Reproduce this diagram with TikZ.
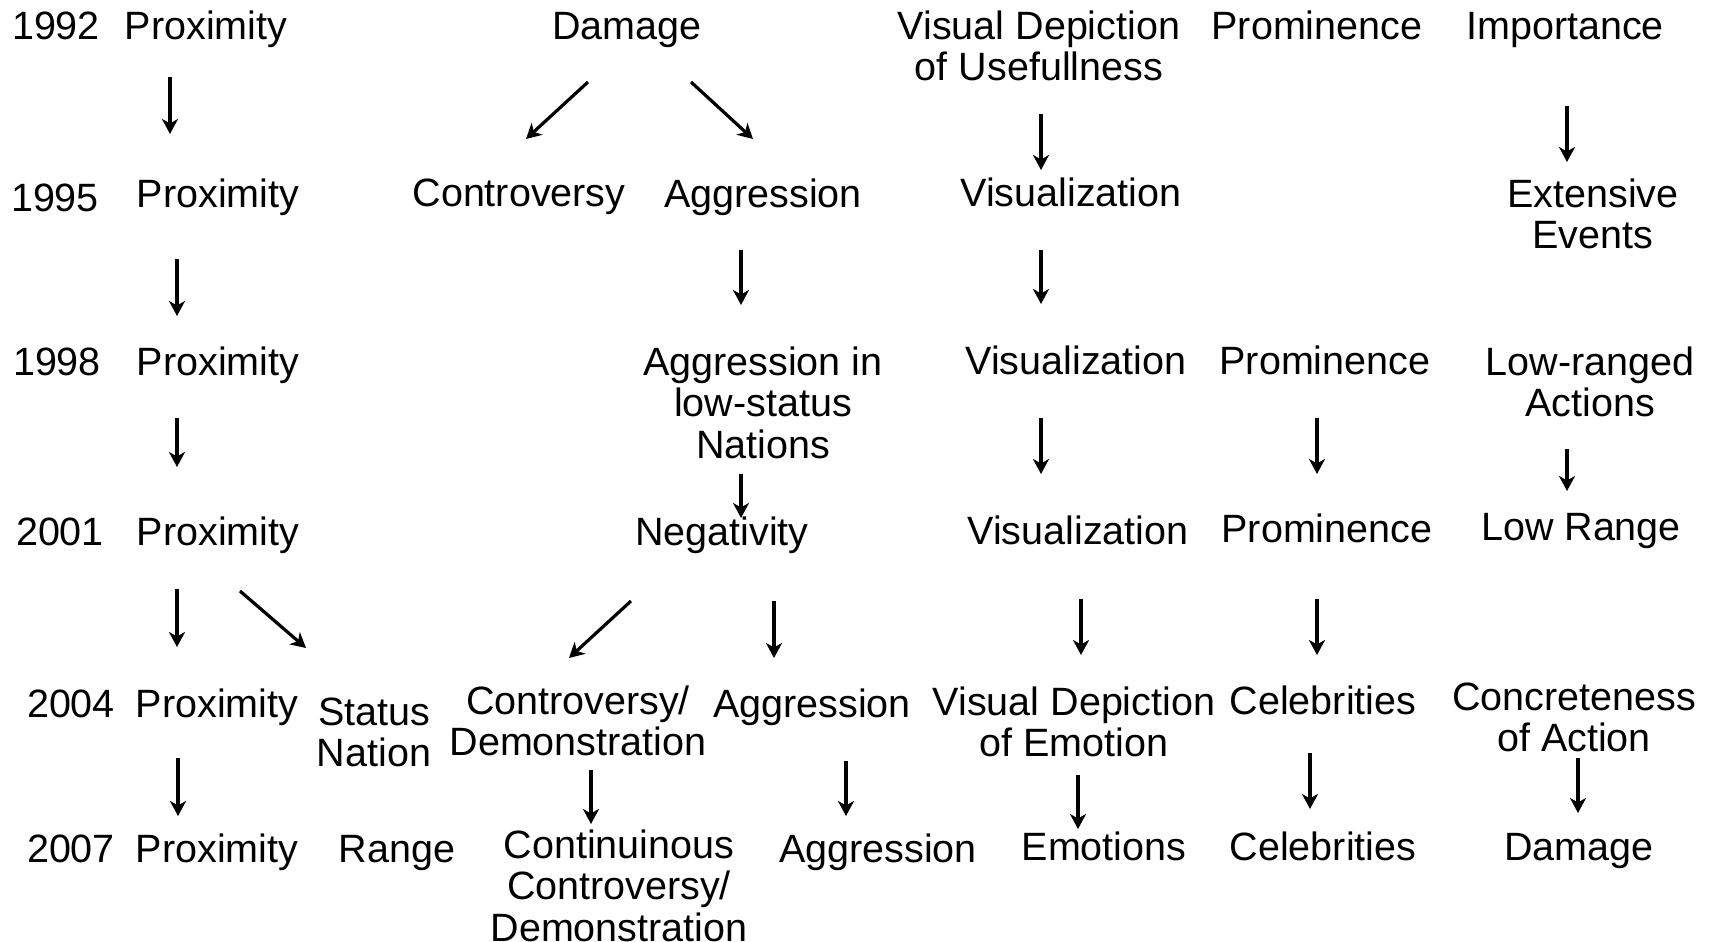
\documentclass[tikz,border=0pt]{standalone}
\usepackage{fontspec}
\setmainfont{Liberation Sans}
\usetikzlibrary{arrows.meta}
\newcommand\st{\rule{0pt}{32pt}}
\begin{document}
\begin{tikzpicture}[x=1pt,y=-1pt,
  lbl/.style={anchor=north,inner sep=0pt,align=center,font=\fontsize{39.5}{41.5}\selectfont},
  arr/.style={line width=3.2pt,-{Stealth[length=15pt,width=16pt,inset=4.5pt]}}]
\useasboundingbox (0,0) rectangle (1716,942);
% years
\node[lbl] (y92) at (56,37-30)  {\st 1992};
\node[lbl] (y95) at (55,209-30) {\st 1995};
\node[lbl] (y98) at (57,373-30) {\st 1998};
\node[lbl] (y01) at (60,543-30) {\st 2001};
\node[lbl] (y04) at (71,715-30) {\st 2004};
\node[lbl] (y07) at (71,860-30) {\st 2007};
% proximity column
\node[lbl] (p92) at (206,37-30)  {\st Proximity};
\node[lbl] (p95) at (218,205-30) {\st Proximity};
\node[lbl] (p98) at (218,373-30) {\st Proximity};
\node[lbl] (p01) at (218,543-30) {\st Proximity};
\node[lbl] (p04) at (217,715-30) {\st Proximity};
\node[lbl] (p07) at (217,860-30) {\st Proximity};
\node[lbl] (sn04) at (374,723-30) {\st Status\\Nation};
\node[lbl] (rg07) at (397,860-30) {\st Range};
% damage column
\node[lbl] (dm92) at (627,37-30) {\st Damage};
\node[lbl] (ct95) at (519,204-30) {\st Controversy};
\node[lbl] (ag95) at (763,205-30) {\st Aggression};
\node[lbl] (ag98) at (763,373-30) {\st Aggression in\\low-status\\Nations};
\node[lbl] (ng01) at (722,543-30) {\st Negativity};
\node[lbl] (cd04) at (578,712-30) {\st Controversy/\\Demonstration};
\node[lbl] (ag04) at (812,715-30) {\st Aggression};
\node[lbl] (cc07) at (619,856-30) {\st Continuinous\\Controversy/\\Demonstration};
\node[lbl] (ag07) at (878,860-30) {\st Aggression};
% visual column
\node[lbl] (vu92) at (1039,37-30) {\st Visual Depiction\\of Usefullness};
\node[lbl] (vi95) at (1071,204-30) {\st Visualization};
\node[lbl] (vi98) at (1076,372-30) {\st Visualization};
\node[lbl] (vi01) at (1078,542-30) {\st Visualization};
\node[lbl] (ve04) at (1074,713-30) {\st Visual Depiction\\of Emotion};
\node[lbl] (em07) at (1104,858-30) {\st Emotions};
% prominence column
\node[lbl] (pr92) at (1317,37-30) {\st Prominence};
\node[lbl] (pr98) at (1325,372-30) {\st Prominence};
\node[lbl] (pr01) at (1327,540-30) {\st Prominence};
\node[lbl] (ce04) at (1323,712-30) {\st Celebrities};
\node[lbl] (ce07) at (1323,858-30) {\st Celebrities};
% importance column
\node[lbl] (im92) at (1565,37-30) {\st Importance};
\node[lbl] (ex95) at (1593,205-30) {\st Extensive\\Events};
\node[lbl] (lr98) at (1590,373-30) {\st Low-ranged\\Actions};
\node[lbl] (lo01) at (1581,538-30) {\st Low Range};
\node[lbl] (co04) at (1574,708-30) {\st Concreteness\\of Action};
\node[lbl] (dm07) at (1579,858-30) {\st Damage};
% arrow end points
\coordinate (p92s) at (170,77);   \coordinate (p95e) at (170,134);
\coordinate (p95s) at (177,259);  \coordinate (p98e) at (177,316);
\coordinate (p98s) at (177,418);  \coordinate (p01e) at (177,467);
\coordinate (p01s) at (177,589);  \coordinate (p04e) at (177,647);
\coordinate (p01d) at (240,591);  \coordinate (sn04e) at (306,648);
\coordinate (p04s) at (178,758);  \coordinate (p07e) at (178,816);
\coordinate (dm92l) at (588,82);  \coordinate (ct95e) at (526,139);
\coordinate (dm92r) at (691,82);  \coordinate (ag95e) at (753,139);
\coordinate (ag95s) at (741,250); \coordinate (ag98e) at (741,305);
\coordinate (ag98s) at (741,474); \coordinate (ng01e) at (741,518);
\coordinate (ng01l) at (631,601); \coordinate (cd04e) at (569,658);
\coordinate (ng01r) at (774,601); \coordinate (ag04e) at (774,658);
\coordinate (cd04s) at (591,770); \coordinate (cc07e) at (591,824);
\coordinate (ag04s) at (846,761); \coordinate (ag07e) at (846,816);
\coordinate (vu92s) at (1041,114); \coordinate (vi95e) at (1041,170);
\coordinate (vi95s) at (1041,250); \coordinate (vi98e) at (1041,304);
\coordinate (vi98s) at (1041,418); \coordinate (vi01e) at (1041,474);
\coordinate (vi01s) at (1081,599); \coordinate (ve04e) at (1081,655);
\coordinate (ve04s) at (1078,775); \coordinate (em07e) at (1078,829);
\coordinate (pr98s) at (1317,418); \coordinate (pr01e) at (1317,474);
\coordinate (pr01s) at (1317,599); \coordinate (ce04e) at (1317,655);
\coordinate (ce04s) at (1310,753); \coordinate (ce07e) at (1310,809);
\coordinate (im92s) at (1567,106); \coordinate (ex95e) at (1567,162);
\coordinate (lr98s) at (1567,449); \coordinate (lo01e) at (1567,491);
\coordinate (co04s) at (1578,758); \coordinate (dm07e) at (1578,813);
% arrows
\draw[arr] (p92s) -- (p95e);
\draw[arr] (p95s) -- (p98e);
\draw[arr] (p98s) -- (p01e);
\draw[arr] (p01s) -- (p04e);
\draw[arr] (p01d) -- (sn04e);
\draw[arr] (p04s) -- (p07e);
\draw[arr] (dm92l) -- (ct95e);
\draw[arr] (dm92r) -- (ag95e);
\draw[arr] (ag95s) -- (ag98e);
\draw[arr] (ag98s) -- (ng01e);
\draw[arr] (ng01l) -- (cd04e);
\draw[arr] (ng01r) -- (ag04e);
\draw[arr] (cd04s) -- (cc07e);
\draw[arr] (ag04s) -- (ag07e);
\draw[arr] (vu92s) -- (vi95e);
\draw[arr] (vi95s) -- (vi98e);
\draw[arr] (vi98s) -- (vi01e);
\draw[arr] (vi01s) -- (ve04e);
\draw[arr] (ve04s) -- (em07e);
\draw[arr] (pr98s) -- (pr01e);
\draw[arr] (pr01s) -- (ce04e);
\draw[arr] (ce04s) -- (ce07e);
\draw[arr] (im92s) -- (ex95e);
\draw[arr] (lr98s) -- (lo01e);
\draw[arr] (co04s) -- (dm07e);
\end{tikzpicture}
\end{document}
